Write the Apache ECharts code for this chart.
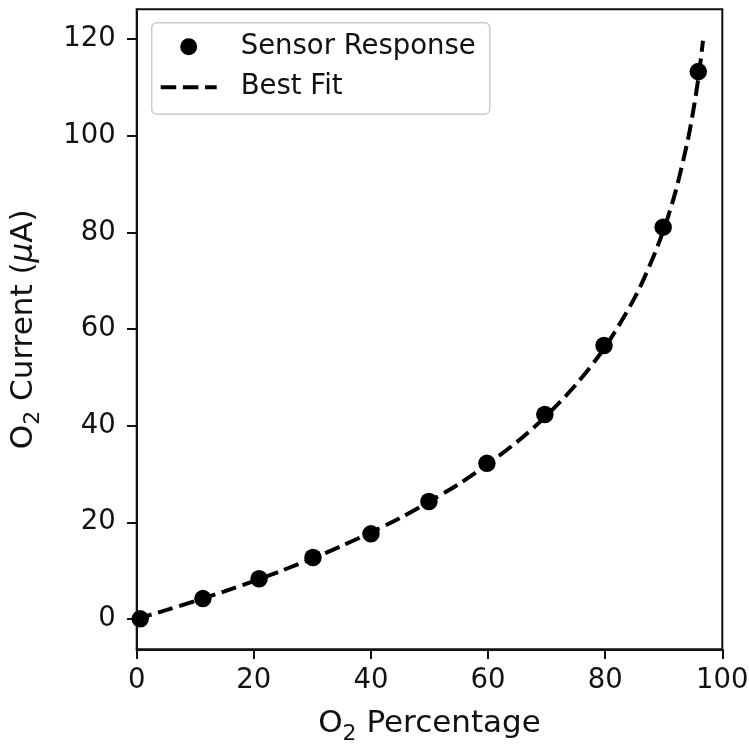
<!DOCTYPE html>
<html>
<head>
<meta charset="utf-8">
<script src="https://cdn.jsdelivr.net/npm/echarts@6/dist/echarts.min.js"></script>
<style>
  html, body { margin: 0; padding: 0; background: #fff; }
  #chart { width: 749px; height: 745px; }
</style>
</head>
<body>
<div id="chart"></div>
<script>
// Measured sensor response: O2 percentage vs. current (µA)
const sensorX = [0.6, 11.3, 20.9, 30.1, 40.0, 49.9, 59.8, 69.7, 79.8, 89.9, 95.9];
const sensorY = [0.0, 4.2, 8.3, 12.7, 17.6, 24.3, 32.2, 42.3, 56.6, 81.1, 113.3];

// Best-fit curve, sampled along its length
const fitX = [0, 5, 10, 15, 20, 25, 30, 35, 40, 45, 50, 55, 60, 65, 70, 75, 80, 85, 88, 90, 92, 94, 95, 96, 96.7];
const fitY = [0, 1.8, 3.7, 5.7, 7.8, 10.1, 12.5, 15.1, 17.9, 20.9, 24.3, 27.9, 32.1, 36.7, 42.1, 48.5, 56.3, 66.4, 74.3, 80.6, 88.4, 98.5, 104.9, 112.7, 119.7];

// Axis ticks
const xTicks = [0, 20, 40, 60, 80, 100];
const yTicks = [0, 20, 40, 60, 80, 100, 120];

const FONT = 'DejaVu Sans';
const INK = '#111';
const DASH = [15.5, 6.7];

const chart = echarts.init(document.getElementById('chart'), null, { renderer: 'canvas' });

chart.setOption({
  animation: false,
  backgroundColor: '#fff',
  grid: {
    left: 136.7, right: 26.7, top: 9.3, bottom: 95.7,
    outerBoundsMode: 'none',
    containLabel: false,
    show: true, borderColor: INK, borderWidth: 2, backgroundColor: 'transparent'
  },
  legend: {
    left: 151.7, top: 22.7,
    orient: 'vertical',
    padding: [9, 14, 12, 7],
    itemWidth: 56, itemHeight: 17, itemGap: 10.6,
    backgroundColor: 'rgba(255,255,255,0.8)',
    borderColor: '#cccccc', borderWidth: 1.5, borderRadius: 5,
    textStyle: { fontFamily: FONT, fontSize: 27.5, color: INK, lineHeight: 30, padding: [0, 0, 0, 19] },
    data: [
      { name: 'Sensor Response', icon: 'circle' },
      { name: 'Best Fit', itemStyle: { opacity: 0 }, lineStyle: { color: '#000', width: 4, type: DASH } }
    ]
  },
  xAxis: {
    type: 'value', min: 0, max: 100, interval: 20,
    name: '{m|O}{s|2}{m| Percentage}',
    nameLocation: 'middle', nameGap: 54,
    nameTextStyle: {
      fontFamily: FONT, color: INK,
      rich: {
        m: { fontFamily: FONT, fontSize: 31, color: INK },
        s: { fontFamily: FONT, fontSize: 22, color: INK, padding: [20, 0, 0, 0] }
      }
    },
    axisLine: { show: true, onZero: false, lineStyle: { color: INK, width: 2 } },
    axisTick: { show: true, inside: false, length: 9.7, lineStyle: { color: INK, width: 2 } },
    axisLabel: { fontFamily: FONT, fontSize: 27.5, color: INK, margin: 18, customValues: xTicks },
    splitLine: { show: false }
  },
  yAxis: {
    type: 'value', min: -6.3, max: 126.2,
    name: '{m|O}{s|2}{m| Current (}{i|μ}{m|A)}',
    nameLocation: 'middle', nameGap: 92,
    nameTextStyle: {
      fontFamily: FONT, color: INK,
      rich: {
        m: { fontFamily: FONT, fontSize: 31, color: INK },
        i: { fontFamily: FONT, fontSize: 31, color: INK, fontStyle: 'italic' },
        s: { fontFamily: FONT, fontSize: 22, color: INK, padding: [20, 0, 0, 0] }
      }
    },
    axisLine: { show: true, onZero: false, lineStyle: { color: INK, width: 2 } },
    axisTick: { show: true, inside: false, length: 9.7, lineStyle: { color: INK, width: 2 }, customValues: yTicks },
    axisLabel: { fontFamily: FONT, fontSize: 27.5, color: INK, margin: 21, customValues: yTicks },
    splitLine: { show: false }
  },
  series: [
    {
      name: 'Best Fit',
      type: 'line',
      data: fitX.map((x, i) => [x, fitY[i]]),
      smooth: 0.3,
      symbol: 'none',
      clip: true,
      z: 2,
      lineStyle: { color: '#000', width: 4, type: DASH },
      itemStyle: { color: '#000' }
    },
    {
      name: 'Sensor Response',
      type: 'scatter',
      data: sensorX.map((x, i) => [x, sensorY[i]]),
      symbol: 'circle',
      symbolSize: 17.5,
      z: 3,
      itemStyle: { color: '#000', opacity: 1 }
    }
  ]
});
</script>
</body>
</html>
